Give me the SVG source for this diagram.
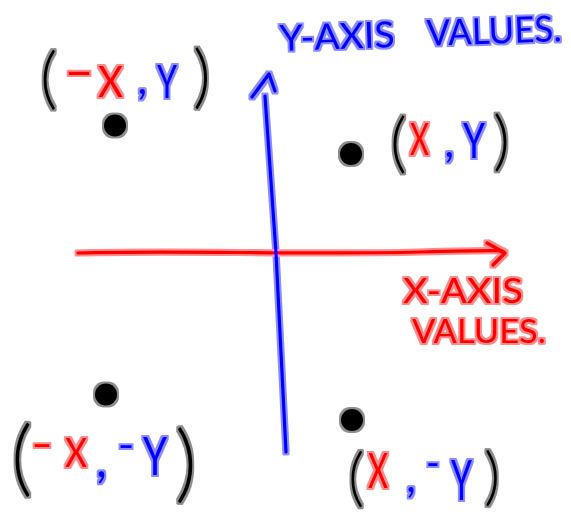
<svg xmlns="http://www.w3.org/2000/svg" width="571" height="512" viewBox="0 0 571 512">
<style>
text{font-family:Lato,"Liberation Sans",Arial,sans-serif;font-weight:400}
.r{fill:#ff0000}
.b{fill:#0000ff}
.k{fill:#000000;font-weight:300}
.ax{fill:none;stroke-width:3.2;stroke-linecap:round;stroke-linejoin:round}
.dot{fill:#000000}
</style>
<defs>
<filter id="mk" filterUnits="userSpaceOnUse" x="0" y="0" width="571" height="512">
<feMorphology in="SourceGraphic" operator="dilate" radius="2.2" result="d"/>
<feColorMatrix in="d" type="matrix" values="1 0 0 0 0 0 1 0 0 0 0 0 1 0 0 0 0 0 0.45 0" result="h"/>
<feMerge><feMergeNode in="h"/><feMergeNode in="SourceGraphic"/></feMerge>
</filter>
</defs>
<rect width="571" height="512" fill="#ffffff"/>
<g id="axes" filter="url(#mk)">
<path class="ax" stroke="#ff0000" d="M78,253 C180,250 300,255 420,252 S490,252 504,252 M487,243 L505,253 L493,265"/>
<path class="ax" stroke="#0000ff" d="M265,96 L276,253 L286,452 M252,97 L269,74 L275,91"/>
</g>
<g id="y-axis-label" filter="url(#mk)">
<text class="b" transform="rotate(-2 280 50)" font-size="36" y="51"><tspan x="280" textLength="115" lengthAdjust="spacingAndGlyphs">Y-AXIS</tspan> <tspan x="427" textLength="135" lengthAdjust="spacingAndGlyphs">VALUES.</tspan></text>
</g>
<g id="x-axis-label" filter="url(#mk)">
<text class="r"><tspan x="403" y="303" font-size="35" textLength="120" lengthAdjust="spacingAndGlyphs">X-AXIS</tspan> <tspan x="412" y="343" font-size="32" textLength="134" lengthAdjust="spacingAndGlyphs">VALUES.</tspan></text>
</g>
<g id="point-ul" filter="url(#mk)">
<circle class="dot" cx="115" cy="125.5" r="11"/>
<text><tspan class="k" x="40" y="100.5" font-size="67">(</tspan><tspan class="r" x="63.5" y="85.5" font-size="42" textLength="31" lengthAdjust="spacingAndGlyphs">-</tspan><tspan class="r" x="98" y="97" font-size="42" textLength="25" lengthAdjust="spacingAndGlyphs">X</tspan><tspan class="b" x="137.4" y="94" font-size="42">,</tspan><tspan class="b" x="157" y="98" font-size="46" textLength="20" lengthAdjust="spacingAndGlyphs">Y</tspan><tspan class="k" x="193" y="100.4" font-size="69">)</tspan></text>
</g>
<g id="point-ur" filter="url(#mk)">
<circle class="dot" cx="351" cy="154" r="11"/>
<text><tspan class="k" x="390" y="164.5" font-size="65">(</tspan><tspan class="r" x="410" y="155" font-size="44" textLength="19" lengthAdjust="spacingAndGlyphs">X</tspan><tspan class="b" x="444.4" y="157" font-size="42">,</tspan><tspan class="b" x="463" y="158" font-size="48" textLength="22" lengthAdjust="spacingAndGlyphs">Y</tspan><tspan class="k" x="493" y="162.5" font-size="66">)</tspan></text>
</g>
<g id="point-ll" filter="url(#mk)">
<circle class="dot" cx="106" cy="394.5" r="11"/>
<text><tspan class="k" x="11" y="486" font-size="83">(</tspan><tspan class="r" x="31" y="457.4" font-size="36" textLength="22" lengthAdjust="spacingAndGlyphs">-</tspan><tspan class="r" x="65" y="467" font-size="40" textLength="22" lengthAdjust="spacingAndGlyphs">X</tspan><tspan class="b" x="96" y="477" font-size="48">,</tspan><tspan class="b" x="117.8" y="458" font-size="36" textLength="16.5" lengthAdjust="spacingAndGlyphs">-</tspan><tspan class="b" x="143" y="475" font-size="53" textLength="24" lengthAdjust="spacingAndGlyphs">Y</tspan><tspan class="k" x="175" y="492" font-size="85">)</tspan></text>
</g>
<g id="point-lr" filter="url(#mk)">
<circle class="dot" cx="352" cy="420" r="11"/>
<text><tspan class="k" x="348" y="499" font-size="63">(</tspan><tspan class="r" x="368" y="488" font-size="49" textLength="20" lengthAdjust="spacingAndGlyphs">X</tspan><tspan class="b" x="406.3" y="492" font-size="42">,</tspan><tspan class="b" x="426.1" y="476" font-size="36" textLength="13.75" lengthAdjust="spacingAndGlyphs">-</tspan><tspan class="b" x="451" y="500" font-size="56" textLength="21" lengthAdjust="spacingAndGlyphs">Y</tspan><tspan class="k" x="484" y="498" font-size="63">)</tspan></text>
</g>
</svg>
